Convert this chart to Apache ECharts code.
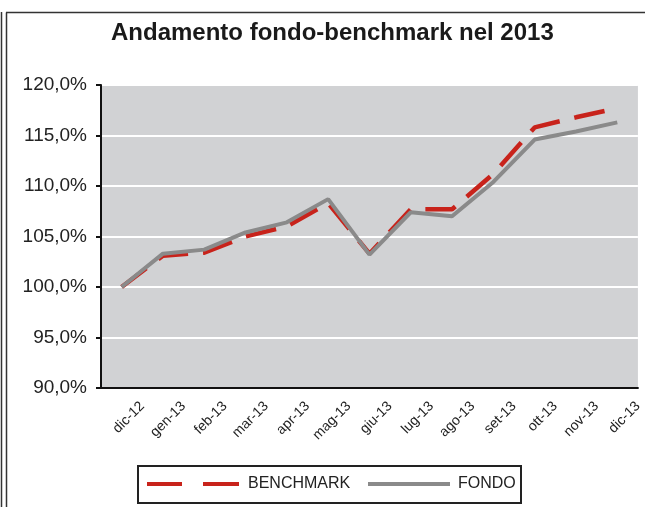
<!DOCTYPE html>
<html>
<head>
<meta charset="utf-8">
<title>Andamento fondo-benchmark nel 2013</title>
<script src="https://cdn.jsdelivr.net/npm/echarts@6/dist/echarts.min.js"></script>
<style>
  html, body { margin: 0; padding: 0; background: #fff; }
  #chart { width: 645px; height: 507px; }
</style>
</head>
<body>
<div id="chart"></div>
<script>
var months = ['dic-12', 'gen-13', 'feb-13', 'mar-13', 'apr-13', 'mag-13', 'giu-13',
              'lug-13', 'ago-13', 'set-13', 'ott-13', 'nov-13', 'dic-13'];
var benchmark = [100.0, 103.1, 103.4, 105.0, 106.0, 108.3, 103.3, 107.7, 107.7, 111.2, 115.8, 116.8, 117.7];
var fondo     = [100.0, 103.3, 103.7, 105.4, 106.4, 108.7, 103.2, 107.4, 107.0, 110.4, 114.6, 115.4, 116.3];
var yTicks = { min: 90, max: 120, step: 5 };

// excel puts the month labels on the tick marks, one slot to the right
var labelCats = [''].concat(months);

var red = '#c8231b', grey = '#8a8a8a';

var chart = echarts.init(document.getElementById('chart'));

var option = {
	animation: false,
	textStyle: { fontFamily: 'Liberation Sans, Arial, sans-serif' },
	title: {
		text: 'Andamento fondo-benchmark nel 2013',
		left: 111,
		top: 21,
		padding: 0,
		textStyle: { fontSize: 24, fontWeight: 'bold', color: '#1a1a1a' }
	},
	legend: [
		{
			left: 147, top: 476,
			padding: 0,
			itemWidth: 92, itemHeight: 4,
			symbolKeepAspect: false,
			textStyle: { fontSize: 16, color: '#222', padding: [0, 0, 0, 4] },
			data: [{ name: 'BENCHMARK', icon: 'path://M0,0h35v4h-35z M56,0h36v4h-36z' }]
		},
		{
			left: 368, top: 476,
			padding: 0,
			itemWidth: 82, itemHeight: 4,
			symbolKeepAspect: false,
			textStyle: { fontSize: 16, color: '#222', padding: [0, 0, 0, 3] },
			data: [{ name: 'FONDO', icon: 'rect' }]
		}
	],
	grid: { left: 101, right: 7, top: 85, bottom: 119 },
	xAxis: [
		{
			type: 'category',
			data: months,
			position: 'bottom',
			boundaryGap: true,
			axisLine: { lineStyle: { color: '#111', width: 2 } },
			axisTick: { length: 5, lineStyle: { color: '#111', width: 2 } },
			axisLabel: { show: false }
		},
		{
			type: 'category',
			data: labelCats,
			position: 'bottom',
			boundaryGap: false,
			axisLine: { show: false },
			axisTick: { show: false },
			axisLabel: { rotate: 45, interval: 0, fontSize: 14, color: '#222', margin: 16 }
		}
	],
	yAxis: {
		type: 'value',
		min: yTicks.min,
		max: yTicks.max,
		interval: yTicks.step,
		axisLine: { show: true, lineStyle: { color: '#111', width: 2 } },
		axisTick: { show: true, length: 5, lineStyle: { color: '#111', width: 2 } },
		axisLabel: {
			fontSize: 19,
			color: '#222',
			margin: 14,
			formatter: function(v){ return v.toFixed(1).replace('.', ',') + '%'; }
		},
		splitLine: { lineStyle: { color: '#fff', width: 2 } },
		splitArea: { show: true, areaStyle: { color: ['#d1d2d4', '#d1d2d4'] } }
	},
	series: [
		{
			name: 'BENCHMARK',
			type: 'line',
			data: benchmark,
			symbol: 'none',
			z: 2,
			lineStyle: { color: red, width: 4.5, type: [31, 15] },
			itemStyle: { color: red }
		},
		{
			name: 'FONDO',
			type: 'line',
			data: fondo,
			symbol: 'none',
			z: 3,
			lineStyle: { color: grey, width: 4 },
			itemStyle: { color: grey }
		}
	],
	graphic: [
		{ type: 'line', shape: { x1: 1.5, y1: 12, x2: 1.5, y2: 507 }, style: { stroke: '#333', lineWidth: 1.5 } },
		{ type: 'line', shape: { x1: 6.5, y1: 12.5, x2: 6.5, y2: 507 }, style: { stroke: '#333', lineWidth: 1.5 } },
		{ type: 'line', shape: { x1: 6, y1: 12.5, x2: 645, y2: 12.5 }, style: { stroke: '#333', lineWidth: 1.5 } },
		// legend frame
		{ type: 'rect', shape: { x: 138, y: 466, width: 383, height: 37 }, style: { fill: '#fff', stroke: '#222', lineWidth: 2 }, z: -1 }
	]
};

chart.setOption(option);
</script>
</body>
</html>
